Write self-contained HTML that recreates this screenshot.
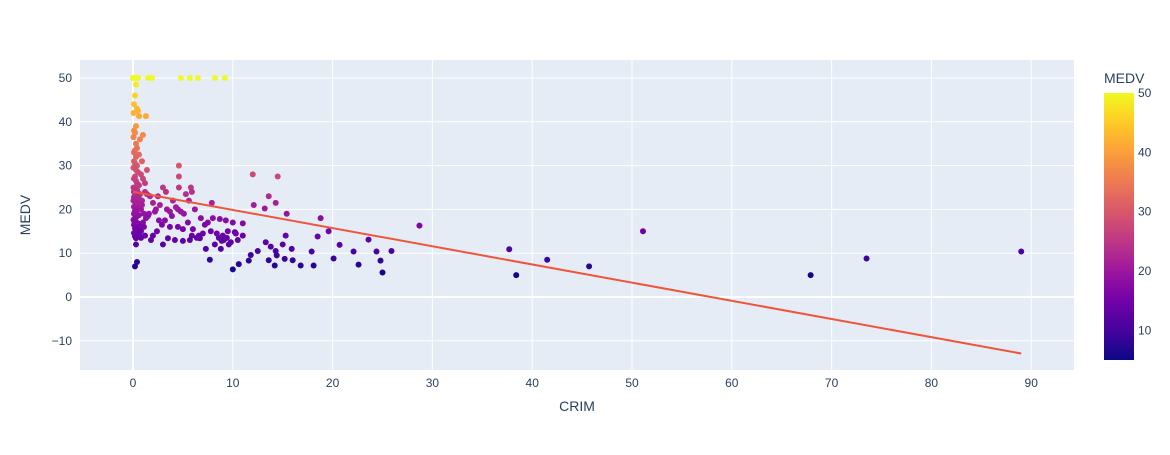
<!DOCTYPE html>
<html><head><meta charset="utf-8"><style>
body{margin:0;background:#fff;font-family:"Liberation Sans",Arial,sans-serif}
svg text{font-family:"Liberation Sans",Arial,sans-serif;fill:#2a3f5f}
</style></head><body>
<svg id="chart" width="1170" height="450" xmlns="http://www.w3.org/2000/svg">
<defs><linearGradient id="cb" x1="0" y1="1" x2="0" y2="0">
<stop offset="0" stop-color="#0d0887"/><stop offset="0.111" stop-color="#46039f"/><stop offset="0.222" stop-color="#7201a8"/><stop offset="0.333" stop-color="#9c179e"/><stop offset="0.444" stop-color="#bd3786"/><stop offset="0.555" stop-color="#d8576b"/><stop offset="0.666" stop-color="#ed7953"/><stop offset="0.777" stop-color="#fb9f3a"/><stop offset="0.888" stop-color="#fdca26"/><stop offset="1" stop-color="#f0f921"/></linearGradient></defs>
<rect x="80" y="60" width="994" height="310" fill="#e5ecf6"/>
<g id="grid"></g><g id="pts"></g><g id="line"></g><g id="ticks"></g>
<text x="577" y="411" font-size="14" text-anchor="middle">CRIM</text>
<text x="30" y="215" font-size="14" text-anchor="middle" transform="rotate(-90 30 215)">MEDV</text>
<text x="1104" y="83" font-size="14">MEDV</text>
<rect x="1104" y="93" width="30" height="267" fill="url(#cb)"/>
<g id="cbticks"></g>
</svg>
<script>
const crim=[0,0.02,0.05,0.1,0.15,0.2,0.3,0.4,0.5,1.5,1.9,4.8,5.7,6.5,8.2,9.2,0.3,0.2,0.1,0.4,0.05,0.6,1.3,0.5,0.7,1.0,0.3,0.1,0.2,0.05,0.3,0.4,0.2,0.1,0.6,0.3,0.1,0.2,0.4,0.05,0.3,0.5,0.8,0.2,0.1,0.3,0.4,0.6,0.05,0.2,0.3,0.1,0.5,0.7,0.2,0.4,0.1,0.3,0.6,0.05,0.2,0.4,0.3,0.1,0.5,0.8,0.2,0.3,0.1,0.6,0.4,0.2,0.05,0.3,0.5,0.1,0.7,0.2,0.3,0.4,0.1,0.6,0.2,0.3,0.3,0.4,0.2,0.1,0.9,1.1,1.0,0.8,1.2,0.9,1.3,1.1,0.8,1.2,1.4,1.6,2.0,2.3,2.5,3.0,3.3,3.7,4.0,4.5,4.6,4.6,4.6,5.3,5.6,5.8,5.9,6.2,7.9,12,14.5,13.6,14.3,12.1,13.2,15.4,18.8,9.3,7.5,8.0,8.7,10,11,11,10.5,9.5,9.0,8.6,7.8,7.0,6.4,5.9,5.0,4.5,3.7,2.9,2.4,2.0,1.8,3.0,3.5,4.2,5.0,5.7,6.7,7.3,7.7,8.2,8.8,9.6,10,10.6,11.6,11.8,12.5,13.3,13.8,14.3,14.4,15,15.3,15.9,16,15.2,14.2,13.6,16.8,17.9,18.1,18.5,19.6,20.1,20.7,22.1,22.6,23.6,24.4,24.8,25,25.9,28.7,37.7,38.4,41.5,45.7,51.1,67.9,73.5,89,1.5,2.2,2.7,3.2,3.9,4.3,5.1,6.0,6.8,7.2,8.4,9.1,9.8,10.2,1.0,1.2,1.7,0.9,1.4,2.6,3.4,4.8,5.5,6.6,8.9,9.4,10.3,0.6,0.4,0.3];
const medv=[50,50,50,50,50,50,50,50,50,50,50,50,50,50,50,50,48.5,46,44,43,42,41.3,41.3,42.5,36,37,39,38,37.5,36.5,35,34,33.5,33,32.5,32,31,30.5,30,29.5,29,28.5,28,27.5,27,26.5,26,25.5,25,24.8,24.5,24,23.8,23.5,23.2,23,22.8,22.5,22.2,22,21.7,21.4,21,20.6,20.3,20,19.7,19.4,19,18.7,18.4,18,17.6,17.2,16.8,16.5,16.1,15.7,15.3,15,14.6,14.2,13.8,13.4,12,8,7,24,22,19,17,15,14,21,18,16,13.5,24,23.5,19,21.5,20,23,25,24,19.5,22,20,30,27.5,25,23.5,22,25,24,20,21.5,28,27.5,23,21.5,21,20.2,19,18,17.5,17,18,17.8,17,16.8,14,13,15,14,13.5,15,14.5,13.5,14,15.5,16,16,16.5,15,14,13,12,13.4,13,12.8,13,13.4,11,8.5,12,11,12,6.3,7.5,8.3,9.6,10.5,12.5,11.5,10.5,9.5,12,14,11,8.4,8.7,7.2,8.4,7.2,10.4,7.2,13.8,15,8.8,11.9,10.4,7.4,13.1,10.4,8.3,5.6,10.5,16.3,10.9,5,8.5,7,15,5,8.8,10.4,18.5,19.5,21,17.5,18.5,20.5,19,15.5,18,16.5,14.5,13,12.5,14.8,27,26,23,31,29,17.5,20,19.5,17,14,12.8,13.5,14.5,22.5,24.5,21.5];
const xTicks=[0,10,20,30,40,50,60,70,80,90];
const yTicks=[-10,0,10,20,30,40,50];
const cbTicks=[10,20,30,40,50];
const lineX=[0,89];
const slope=-0.415, intercept=24.03;
const X=v=>133+v*9.98, Y=v=>297-v*4.38;
const stops=[[0,13,8,135],[.111,70,3,159],[.222,114,1,168],[.333,156,23,158],[.444,189,55,134],[.555,216,87,107],[.666,237,121,83],[.777,251,159,58],[.888,253,202,38],[1,240,249,33]];
function col(v){let t=Math.max(0,Math.min(1,(v-5)/45));for(let i=1;i<stops.length;i++){if(t<=stops[i][0]){const a=stops[i-1],b=stops[i],f=(t-a[0])/(b[0]-a[0]);return `rgb(${[1,2,3].map(k=>Math.round(a[k]+(b[k]-a[k])*f)).join(',')})`;}}return 'rgb(240,249,33)';}
const NS='http://www.w3.org/2000/svg';
function mk(tag,attrs,parent){const e=document.createElementNS(NS,tag);for(const k in attrs)e.setAttribute(k,attrs[k]);document.getElementById(parent).appendChild(e);return e;}
xTicks.forEach(t=>{const g=mk('line',{x1:X(t),x2:X(t),y1:60,y2:370,stroke:'#fff','stroke-width':t===0?2:1},'grid');


const l=mk('text',{x:X(t),y:387,'font-size':12,'text-anchor':'middle'},'ticks');l.textContent=t;

});
yTicks.forEach(t=>{const g=mk('line',{x1:80,x2:1074,y1:Y(t),y2:Y(t),stroke:'#fff','stroke-width':t===0?2:1},'grid');


const l=mk('text',{x:72,y:Y(t)+4,'font-size':12,'text-anchor':'end'},'ticks');l.textContent=t===-10?'\u221210':t;

});
crim.forEach((c,i)=>{const p=mk('circle',{cx:X(c),cy:Y(medv[i]),r:3,fill:col(medv[i])},'pts');

});
const ln=mk('line',{x1:X(lineX[0]),y1:Y(intercept+slope*lineX[0]),x2:X(lineX[1]),y2:Y(intercept+slope*lineX[1]),stroke:'#ef553b','stroke-width':2},'line');


cbTicks.forEach(t=>{const l=mk('text',{x:1138,y:360-(t-5)/45*267+4,'font-size':12},'cbticks');l.textContent=t;

});
</script>
</body></html>
